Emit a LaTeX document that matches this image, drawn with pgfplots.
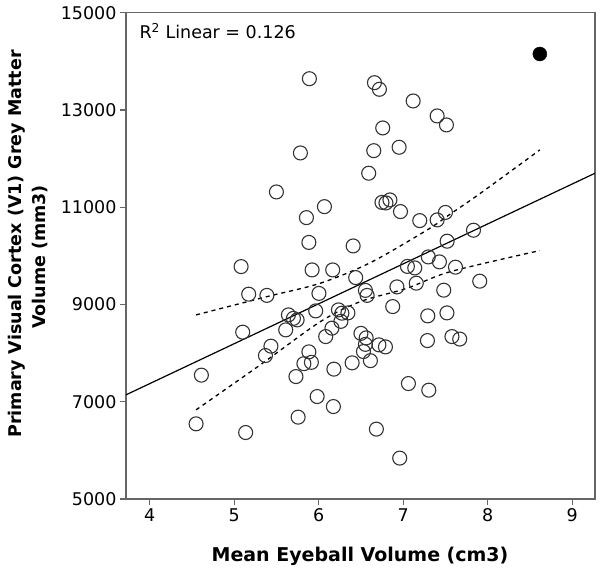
\documentclass[border=0pt]{standalone}
\usepackage{fontspec}
\setmainfont{DejaVu Sans}
\usepackage{pgfplots}
\pgfplotsset{compat=1.18}
\usepackage{pgfplotstable}

\pgfplotstableread{
x y
5.890 13643
6.660 13561
6.719 13425
7.118 13185
7.402 12877
7.512 12692
6.758 12630
5.784 12116
6.652 12163
6.952 12233
6.592 11699
5.500 11314
6.749 11099
6.796 11088
6.843 11150
6.068 11012
6.968 10910
5.855 10786
7.196 10725
7.402 10739
7.500 10893
7.832 10527
5.884 10276
6.408 10204
7.520 10301
5.082 9779
5.922 9711
6.166 9711
7.297 9978
7.429 9876
7.050 9783
7.137 9752
7.619 9767
6.438 9553
7.906 9479
6.926 9362
7.155 9438
7.480 9294
6.553 9290
6.573 9187
5.172 9212
5.387 9187
6.003 9228
5.642 8786
5.701 8714
5.745 8683
5.965 8868
6.234 8889
6.275 8821
6.346 8827
6.263 8653
5.610 8478
6.157 8513
6.083 8340
6.876 8957
7.291 8766
7.518 8827
5.101 8431
5.435 8143
5.370 7950
6.500 8406
6.562 8313
6.553 8180
6.713 8170
6.790 8128
6.530 8032
7.287 8258
7.577 8340
7.669 8289
5.884 8026
5.825 7783
5.914 7810
6.396 7800
6.612 7845
6.180 7670
5.731 7518
4.612 7547
7.062 7374
7.303 7238
5.982 7107
6.174 6901
5.757 6683
4.549 6546
5.136 6367
6.683 6437
6.959 5841
}\datatable

\pgfplotstableread{
x y
4.549 8786
5.390 9162
6.021 9438
6.613 9861
7.284 10533
7.560 10862
7.915 11288
8.617 12178
}\upperband

\pgfplotstableread{
x y
4.549 6833
5.310 7759
6.021 8648
6.494 9060
7.047 9335
7.560 9676
8.617 10108
}\lowerband

\begin{document}
\begin{tikzpicture}
\path[use as bounding box] (0,0) rectangle (601pt,-569pt);
\begin{axis}[
  at={(126pt,-499pt)}, anchor=south west,
  scale only axis, width=469pt, height=486.3pt,
  xmin=3.72, xmax=9.27, ymin=5000, ymax=15000,
  xtick={4,5,6,7,8,9},
  ytick={5000,7000,9000,11000,13000,15000},
  tick align=outside, tick pos=left,
  major tick length=6pt,
  axis line style={draw=black!60, line width=1.2pt},
  every tick/.style={draw=black!60, line width=1.2pt},
  scaled ticks=false,
  /pgf/number format/assume math mode=true,
  yticklabel style={/pgf/number format/.cd, 1000 sep={}},
  ticklabel style={font=\fontsize{17.5}{20}\selectfont},
  clip=true,
]
\addplot[only marks, mark=o, mark size=7pt, draw=black!80, line width=1.1pt] table[x=x,y=y] {\datatable};
\addplot[only marks, mark=*, mark size=7pt, fill=black, draw=black] coordinates {(8.617,14151)};
\addplot[black, line width=1.2pt] coordinates {(3.72,7142) (9.27,11699)};
\addplot[black, line width=1.3pt, dash pattern=on 4pt off 4pt, smooth] table[x=x,y=y] {\upperband};
\addplot[black, line width=1.3pt, dash pattern=on 4pt off 4pt, smooth] table[x=x,y=y] {\lowerband};
\end{axis}
\node[anchor=base west, font=\fontsize{17.5}{20}\selectfont] at (136pt,-39pt) {R\textsuperscript{2} Linear = 0.126};
\node[rotate=90, font=\fontsize{17.5}{20}\bfseries] at (17pt,-244pt) {Primary Visual Cortex (V1) Grey Matter};
\node[rotate=90, font=\fontsize{17.5}{20}\bfseries] at (40pt,-257pt) {Volume (mm3)};
\node[anchor=base, font=\fontsize{19}{21}\bfseries] at (360pt,-561.7pt) {Mean Eyeball Volume (cm3)};
\end{tikzpicture}
\end{document}
